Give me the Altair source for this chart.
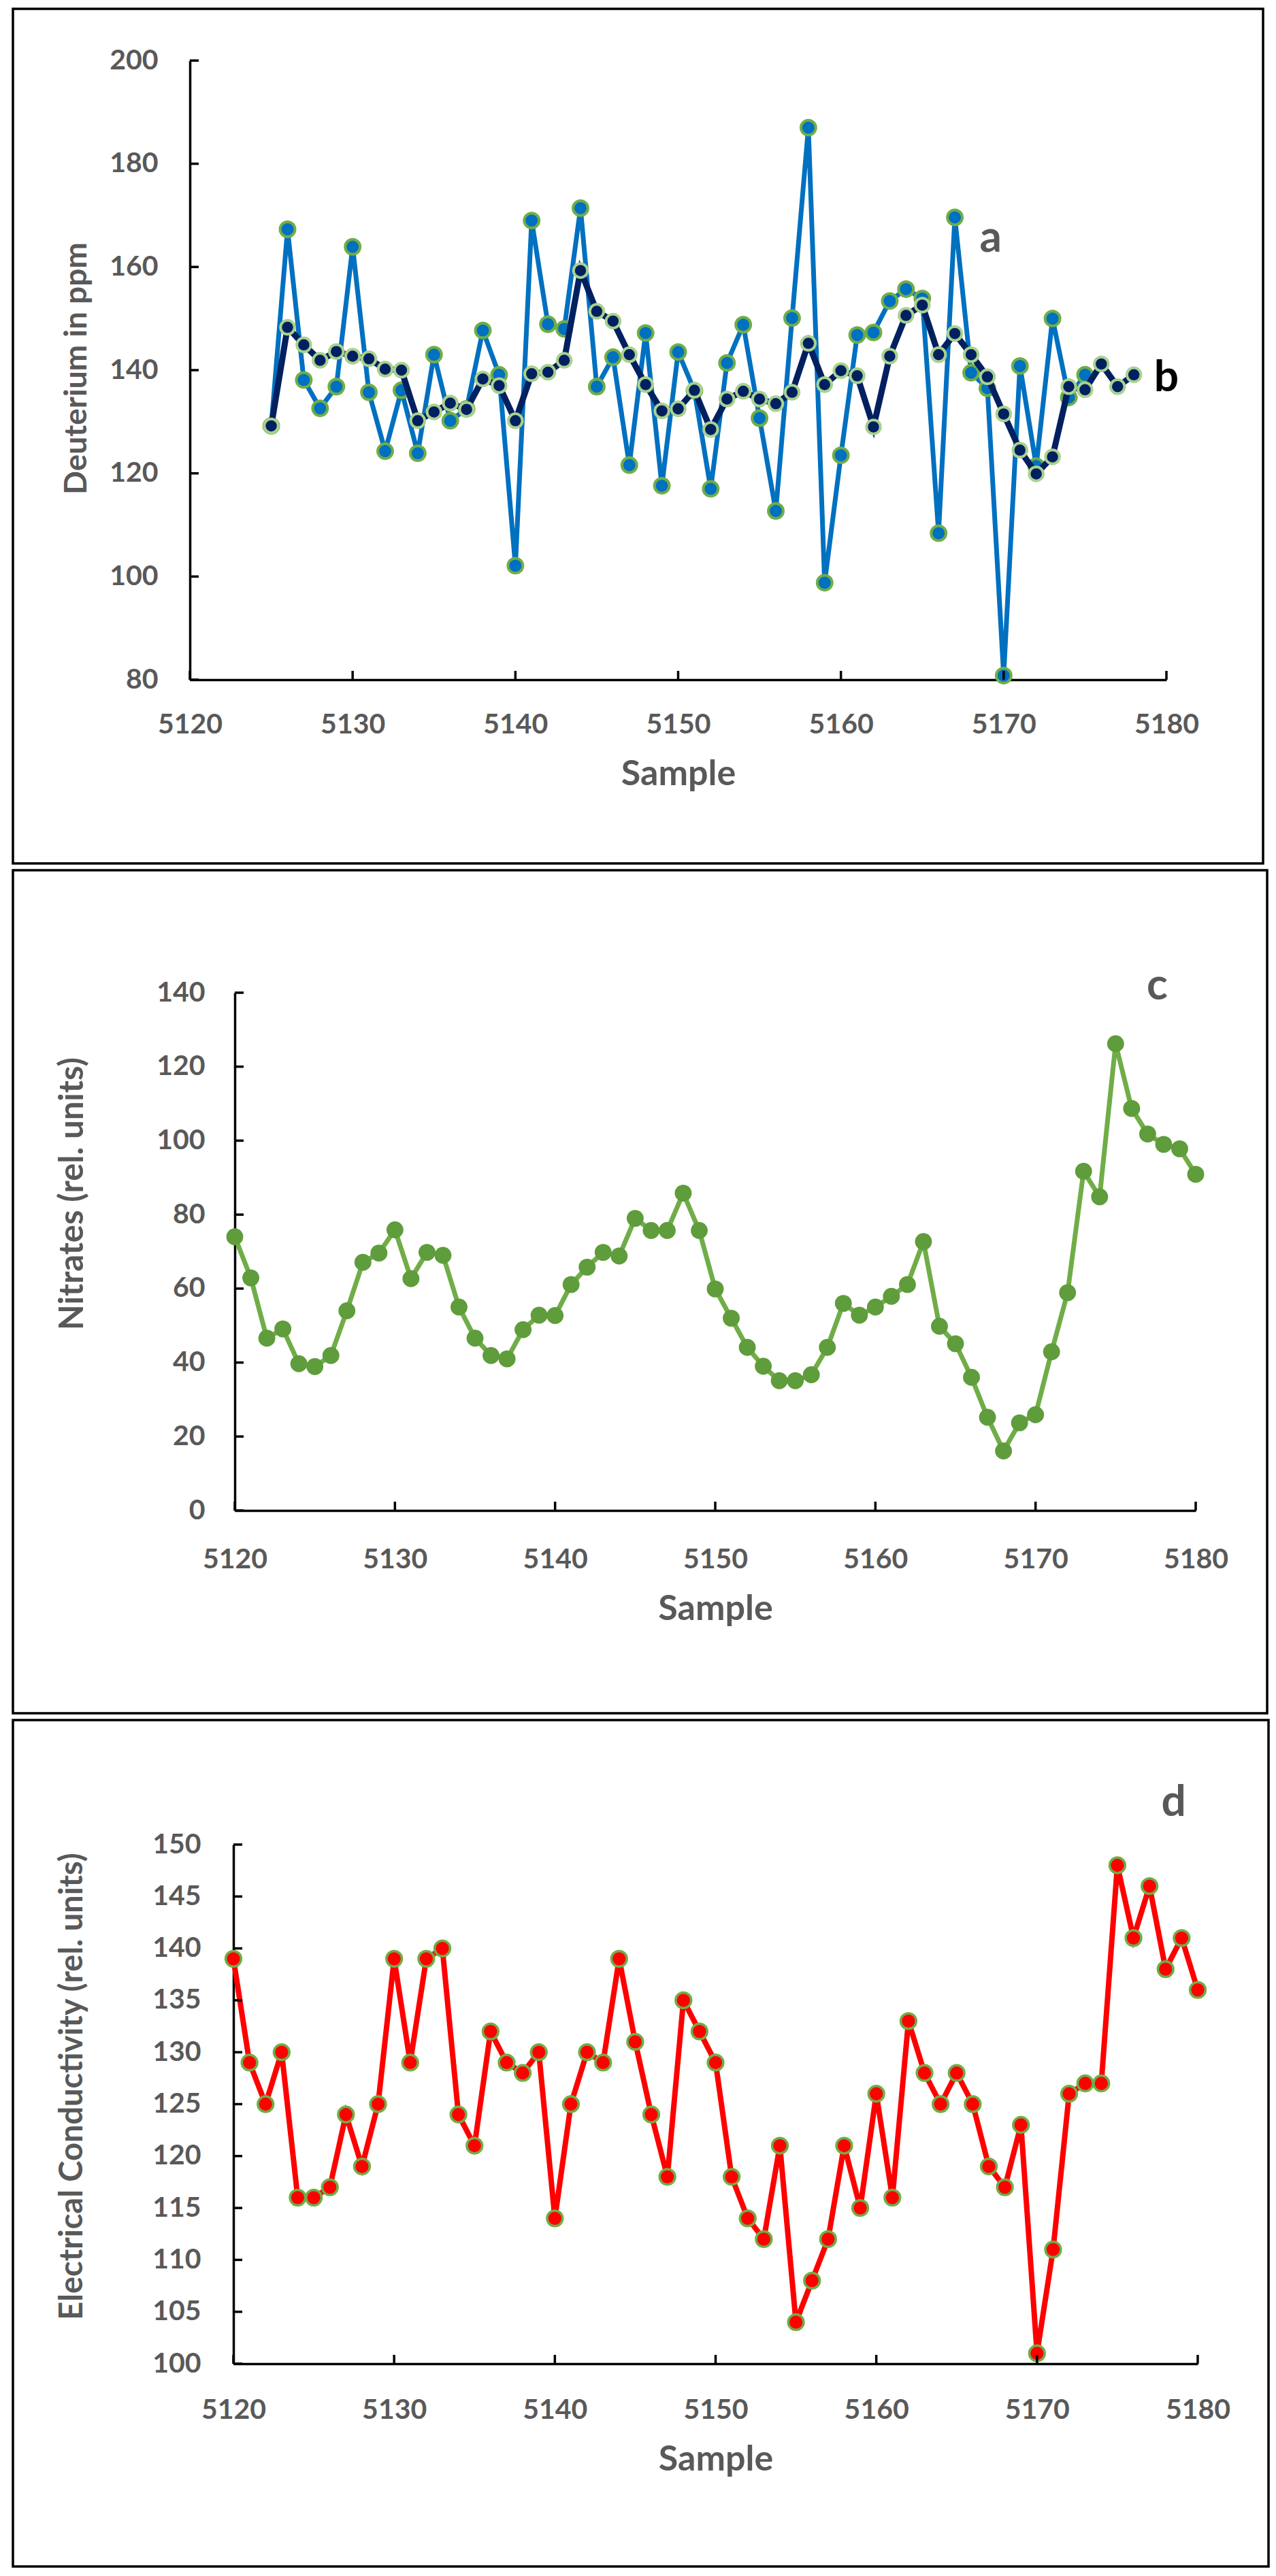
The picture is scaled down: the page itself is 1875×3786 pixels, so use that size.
import altair as alt
import pandas as pd

# ---- data ----
samples_a = list(range(5125, 5176))
samples_b = list(range(5125, 5179))
samples_full = list(range(5120, 5181))

deuterium_a = [
    129.2, 167.3, 138.1, 132.6, 136.8, 163.9, 135.7, 124.3, 136.1, 123.9,
    143.0, 130.2, 132.5, 147.7, 139.1, 102.1, 169.0, 148.9, 148.0, 171.4,
    136.8, 142.5, 121.6, 147.2, 117.6, 143.5, 136.0, 117.0, 141.4, 148.8,
    130.7, 112.7, 150.1, 187.0, 98.8, 123.5, 146.8, 147.3, 153.4, 155.7,
    153.9, 108.4, 169.6, 139.5, 136.5, 80.8, 140.8, 121.4, 150.0, 134.7,
    139.1,
]
deuterium_b = [
    129.2, 148.3, 144.9, 141.9, 143.6, 142.7, 142.2, 140.2, 140.0, 130.2,
    131.9, 133.6, 132.4, 138.3, 137.0, 130.2, 139.3, 139.6, 141.9, 159.3,
    151.4, 149.5, 143.0, 137.2, 132.1, 132.5, 136.1, 128.5, 134.4, 135.9,
    134.4, 133.5, 135.7, 145.2, 137.2, 139.9, 138.9, 129.0, 142.7, 150.6,
    152.6, 143.0, 147.1, 143.0, 138.7, 131.5, 124.5, 119.9, 123.2, 136.8,
    136.2, 141.2, 136.8, 139.1,
]
nitrates = [
    74.0, 62.9, 46.6, 49.1, 39.7, 38.9, 41.9, 54.0, 67.1, 69.6,
    75.9, 62.7, 69.8, 69.0, 55.0, 46.6, 41.9, 41.0, 48.9, 52.8,
    52.7, 61.1, 65.8, 69.8, 68.8, 79.0, 75.7, 75.7, 85.8, 75.7,
    59.9, 52.0, 44.1, 39.0, 35.1, 35.1, 36.7, 44.1, 56.0, 52.8,
    55.0, 57.9, 61.1, 72.7, 49.8, 45.1, 36.0, 25.2, 16.1, 23.7,
    25.9, 42.9, 58.9, 91.7, 84.8, 126.2, 108.7, 101.8, 99.0, 97.8,
    90.9,
]
conductivity = [
    139, 129, 125, 130, 116, 116, 117, 124, 119, 125,
    139, 129, 139, 140, 124, 121, 132, 129, 128, 130,
    114, 125, 130, 129, 139, 131, 124, 118, 135, 132,
    129, 118, 114, 112, 121, 104, 108, 112, 121, 115,
    126, 116, 133, 128, 125, 128, 125, 119, 117, 123,
    101, 111, 126, 127, 127, 148, 141, 146, 138, 141,
    136,
]

x_ticks = [5120, 5130, 5140, 5150, 5160, 5170, 5180]
deut_ticks = [80, 100, 120, 140, 160, 180, 200]
nitr_ticks = [0, 20, 40, 60, 80, 100, 120, 140]
cond_ticks = [100, 105, 110, 115, 120, 125, 130, 135, 140, 145, 150]

# panel letters: (text, sample, value, colour)
letters_1 = [("a", 5169.2, 165.4, "#595959"), ("b", 5180.0, 138.4, "black")]
letters_2 = [("c", 5177.6, 141.7, "#595959")]
letters_3 = [("d", 5178.5, 154.0, "#595959")]

FONT = "Lato"
GRAY = "#595959"
TICK_LEN = 13


def series(samples, values, line_color, line_width, fill, stroke, stroke_w, size):
    df = pd.DataFrame({"sample": samples, "value": values})
    line = alt.Chart(df).mark_line(color=line_color, strokeWidth=line_width)
    pts = alt.Chart(df).mark_circle(
        fill=fill, stroke=stroke, strokeWidth=stroke_w, size=size, opacity=1)
    return [line, pts]


def panel(layers, y_domain, y_ticks, y_title, box_w, box_h, plot_box,
          x_lab_pad, x_title_pad, y_lab_pad, y_title_pad, y_title_size,
          y_title_pos, letters):
    # plot_box = (left, right, top, bottom) of the data area inside the frame
    left, right, top, bottom = plot_box
    x_enc = alt.X("sample:Q",
                  scale=alt.Scale(domain=[5120, 5180], range=[left, right],
                                  nice=False, zero=False),
                  axis=alt.Axis(values=x_ticks, format="d", title="Sample",
                                offset=-(box_h - bottom),
                                labelPadding=x_lab_pad, titlePadding=x_title_pad))
    y_enc = alt.Y("value:Q",
                  scale=alt.Scale(domain=y_domain, range=[bottom, top],
                                  nice=False, zero=False),
                  axis=alt.Axis(values=y_ticks, format="d", title=y_title,
                                offset=-left, titleFontSize=y_title_size,
                                titleY=y_title_pos,
                                labelPadding=y_lab_pad, titlePadding=y_title_pad))

    marks = [l.encode(x=x_enc, y=y_enc) for l in layers]

    # inward tick marks
    xt = alt.Chart(pd.DataFrame({"sample": x_ticks})).mark_rule(
        color="black", strokeWidth=3.5).encode(
        x=x_enc, y=alt.value(bottom), y2=alt.value(bottom - TICK_LEN))
    yt = alt.Chart(pd.DataFrame({"value": y_ticks})).mark_rule(
        color="black", strokeWidth=3.5).encode(
        y=y_enc, x=alt.value(left), x2=alt.value(left + TICK_LEN))

    lab_df = pd.DataFrame(letters, columns=["txt", "sample", "value", "col"])
    labs = alt.Chart(lab_df).mark_text(
        font=FONT, fontSize=64, fontWeight="bold", align="center", baseline="middle"
    ).encode(x=x_enc, y=y_enc, text="txt:N",
             color=alt.Color("col:N", scale=None))

    return alt.layer(*marks, xt, yt, labs).properties(width=box_w, height=box_h)


p1_layers = (series(samples_a, deuterium_a, "#0070C0", 7, "#0070C0", "#70AD47", 4, 480)
             + series(samples_b, deuterium_b, "#002060", 9, "#002060", "#A9D18E", 4, 420))
p1 = panel(p1_layers, [80, 200], deut_ticks, "Deuterium in ppm", 1837, 1256,
           (260, 1695, 76, 986), 46, 27, 47, 24, 46, 528, letters_1)

p2_layers = series(samples_full, nitrates, "#70AD47", 7, "#5F9C3C", "#5F9C3C", 0, 620)
p2 = panel(p2_layers, [0, 140], nitr_ticks, "Nitrates (rel. units)", 1843, 1239,
           (326, 1738, 180, 941), 52, 27, 44, 98, 49, 475, letters_2)

p3_layers = series(samples_full, conductivity, "#FF0000", 8, "#FF0000", "#70AD47", 3.5, 520)
p3 = panel(p3_layers, [100, 150], cond_ticks, "Electrical Conductivity (rel. units)",
           1845, 1244, (324, 1741, 183, 946), 48, 27, 48, 93, 47, 538, letters_3)

chart = alt.vconcat(p1, p2, p3, spacing=6).properties(
    padding={"left": 9, "top": 3, "right": 0, "bottom": 0},
    background="white",
).configure_view(stroke="black", strokeWidth=3.5).configure_axis(
    domainColor="black", domainWidth=3.5, ticks=False, grid=False,
    labelFont=FONT, labelFontSize=41, labelFontWeight="bold", labelColor=GRAY,
    labelFlush=False, labelOverlap=False,
    titleFont=FONT, titleFontSize=52, titleFontWeight="bold", titleColor=GRAY,
)

chart.save("out.html", embed_options={"renderer": "svg", "actions": False})
